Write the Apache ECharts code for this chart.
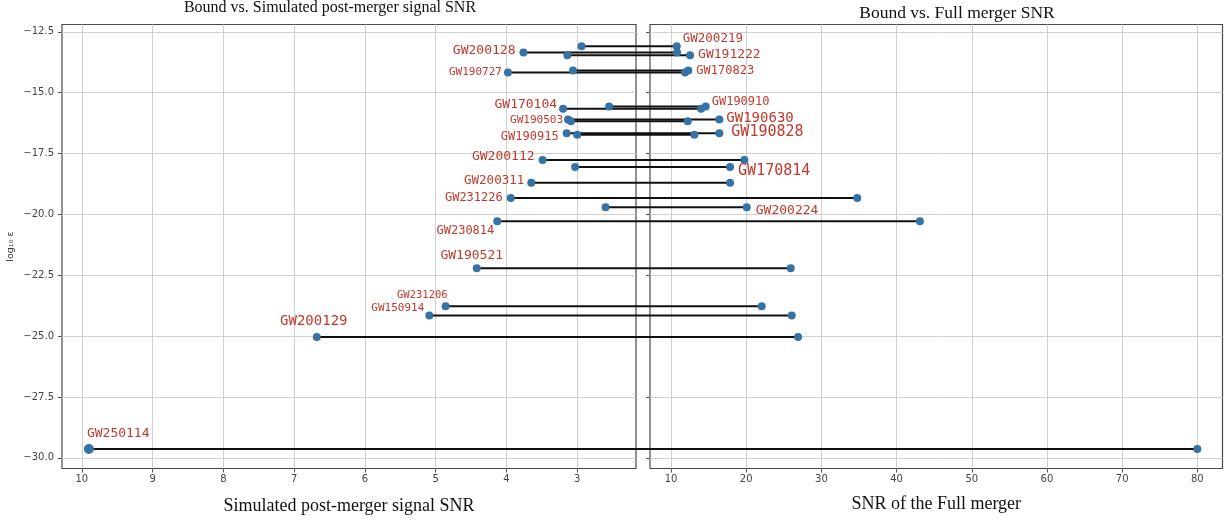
<!DOCTYPE html>
<html>
<head>
<meta charset="utf-8">
<script src="https://cdn.jsdelivr.net/npm/echarts@6/dist/echarts.min.js"></script>
<style>
	html, body { margin: 0; padding: 0; background: #fff; }
	#chart { width: 1228px; height: 523px; }
</style>
</head>
<body>
<div id="chart"></div>
<script>
// one entry per connecting line, top to bottom
var postSNR = [2.94, 3.76, 3.14, 3.98, 3.06, 3.20, 2.55, 3.13, 3.09, 3.15, 3.00,
	3.49, 3.03, 3.65, 3.94, 2.60, 4.13, 4.42, 4.86, 5.09, 6.68, 9.90];
var fullSNR = [10.76, 10.8, 12.53, 11.86, 12.30, 13.99, 14.61, 16.42, 12.22, 16.42, 13.10,
	19.75, 17.85, 17.85, 34.77, 20.07, 43.1, 25.92, 22.06, 26.05, 26.9, 80.0];
var logEps = [-13.09, -13.35, -13.46, -14.17, -14.09, -15.66, -15.57, -16.10, -16.17, -16.67, -16.73,
	-17.77, -18.05, -18.70, -19.33, -19.71, -20.28, -22.21, -23.77, -24.15, -25.04, -29.64];
// names written next to the post-merger end / the full-merger end of a line
var leftNames = ['', 'GW200128', '', 'GW190727', '', 'GW170104', '', 'GW190503', '', 'GW190915', '',
	'GW200112', '', 'GW200311', 'GW231226', '', 'GW230814', 'GW190521', 'GW231206', 'GW150914', 'GW200129', 'GW250114'];
var rightNames = ['GW200219', '', 'GW191222', '', 'GW170823', '', 'GW190910', 'GW190630', '', 'GW190828', '',
	'', 'GW170814', '', '', 'GW200224', '', '', '', '', '', ''];

var yTicks = [-30, -27.5, -25, -22.5, -20, -17.5, -15, -12.5];
var postTicks = [3, 4, 5, 6, 7, 8, 9, 10];
var fullTicks = [10, 20, 30, 40, 50, 60, 70, 80];

var titles = ['Bound vs. Simulated post-merger signal SNR', 'Bound vs. Full merger SNR'];
var xNames = ['Simulated post-merger signal SNR', 'SNR of the Full merger'];
var yName = 'log\u2081\u2080 \u03b5';

// label look: [fontSize, align, dx, dy] relative to the dot
var labelStyle = {
	GW200128: [13, 'right', -8, -2],
	GW190727: [11, 'right', -6, 0],
	GW170104: [13, 'right', -6, -4],
	GW190503: [11, 'right', -5, 1],
	GW190915: [12, 'right', -8, 4],
	GW200112: [13, 'right', -8, -3],
	GW200311: [12.5, 'right', -7, -2],
	GW231226: [12, 'right', -8, 0],
	GW230814: [12, 'right', -3, 10],
	GW190521: [13, 'center', -5, -13],
	GW231206: [10.5, 'right', 2, -11],
	GW150914: [11, 'right', -5, -7],
	GW200129: [14, 'center', -3, -16],
	GW250114: [13, 'left', -2, -15],
	GW200219: [12.5, 'left', 6, -7],
	GW191222: [13, 'left', 8, -1],
	GW170823: [12, 'left', 8, 0],
	GW190910: [12, 'left', 6, -5],
	GW190630: [14, 'left', 7, -1],
	GW190828: [15, 'left', 12, -1],
	GW170814: [15, 'left', 8, 4],
	GW200224: [13, 'left', 9, 3]
};
var bigDots = { GW250114: 10 };

var RED = '#c0392b', BLUE = '#3572a5';
var SERIF = 'Liberation Serif', MONO = 'DejaVu Sans Mono', SANS = 'DejaVu Sans';

function fmtY(v){
	return (v < 0 ? '\u2212' : '') + Math.abs(v).toFixed(1);
}

function point(x, y, name){
	var item = { value: [x, y], symbolSize: bigDots[name] || 8 };
	var s = labelStyle[name];
	if(name && s){
		item.label = {
			show: true,
			formatter: name,
			position: 'inside',
			align: s[1],
			verticalAlign: 'middle',
			offset: [s[2], s[3]],
			fontSize: s[0],
			fontFamily: MONO,
			color: RED
		};
	}
	return item;
}

var leftData = postSNR.map(function(v, i){ return point(v, logEps[i], leftNames[i]); });
var rightData = fullSNR.map(function(v, i){ return point(v, logEps[i], rightNames[i]); });

var tickStyle = { show: true, length: 4, lineStyle: { color: '#555' } };
var gridLine = { show: true, lineStyle: { color: '#d0d0d0', width: 1 } };

var yBase = {
	type: 'value',
	min: -30.44,
	max: -12.2,
	minInterval: 2.5,
	maxInterval: 2.5,
	axisLine: { show: false },
	axisTick: Object.assign({ customValues: yTicks }, tickStyle),
	splitLine: gridLine
};

var option = {
	animation: false,
	backgroundColor: '#fff',
	title: [{
		text: titles[0], left: 330, top: 0, padding: 0, textAlign: 'center',
		textStyle: { fontFamily: SERIF, fontSize: 16, fontWeight: 'normal', color: '#111' }
	}, {
		text: titles[1], left: 957, top: 4, padding: 0, textAlign: 'center',
		textStyle: { fontFamily: SERIF, fontSize: 17.5, fontWeight: 'normal', color: '#111' }
	}],
	grid: [
		{ left: 62, right: 592, top: 24.5, bottom: 54.5, show: true, borderColor: '#4a4a4a', borderWidth: 1.2, backgroundColor: 'transparent' },
		{ left: 650, right: 5.5, top: 24.5, bottom: 54.5, show: true, borderColor: '#4a4a4a', borderWidth: 1.2, backgroundColor: 'transparent' }
	],
	xAxis: [{
		type: 'value', gridIndex: 0, inverse: true,
		min: 2.17, max: 10.28, minInterval: 1, maxInterval: 1,
		name: xNames[0], nameLocation: 'middle', nameGap: 29,
		nameTextStyle: { fontFamily: SERIF, fontSize: 18, color: '#111' },
		axisLine: { show: false },
		axisTick: Object.assign({ customValues: postTicks }, tickStyle),
		axisLabel: { customValues: postTicks, fontFamily: SANS, fontSize: 10, color: '#444', margin: 6 },
		splitLine: gridLine
	}, {
		type: 'value', gridIndex: 1,
		min: 7.2, max: 83.35, minInterval: 10, maxInterval: 10,
		name: xNames[1], nameLocation: 'middle', nameGap: 27,
		nameTextStyle: { fontFamily: SERIF, fontSize: 18, color: '#111' },
		axisLine: { show: false },
		axisTick: Object.assign({ customValues: fullTicks }, tickStyle),
		axisLabel: { customValues: fullTicks, fontFamily: SANS, fontSize: 10, color: '#444', margin: 6 },
		splitLine: gridLine
	}],
	yAxis: [
		Object.assign({}, yBase, {
			gridIndex: 0,
			name: yName, nameLocation: 'middle', nameGap: 46, nameRotate: 90,
			nameTextStyle: { fontFamily: SANS, fontSize: 9.5, color: '#333' },
			axisLabel: { customValues: yTicks, formatter: fmtY, fontFamily: SANS, fontSize: 10, color: '#444', margin: 8 }
		}),
		Object.assign({}, yBase, {
			gridIndex: 1,
			axisLabel: { show: false }
		})
	],
	series: [{
		type: 'scatter', xAxisIndex: 0, yAxisIndex: 0, z: 3,
		itemStyle: { color: BLUE, opacity: 1 },
		emphasis: { disabled: true },
		data: leftData
	}, {
		type: 'scatter', xAxisIndex: 1, yAxisIndex: 1, z: 3,
		itemStyle: { color: BLUE, opacity: 1 },
		emphasis: { disabled: true },
		data: rightData
	}]
};

var chart = echarts.init(document.getElementById('chart'));
chart.setOption(option);

// connecting segments run from one panel into the other, so place them with both scales
var segs = postSNR.map(function(p, i){
	var a = chart.convertToPixel({ xAxisIndex: 0, yAxisIndex: 0 }, [p, logEps[i]]);
	var b = chart.convertToPixel({ xAxisIndex: 1, yAxisIndex: 1 }, [fullSNR[i], logEps[i]]);
	return {
		type: 'line', z: 1, silent: true,
		shape: { x1: a[0], y1: a[1], x2: b[0], y2: b[1] },
		style: { stroke: '#111', lineWidth: 2 }
	};
});
chart.setOption({ graphic: segs });
</script>
</body>
</html>
